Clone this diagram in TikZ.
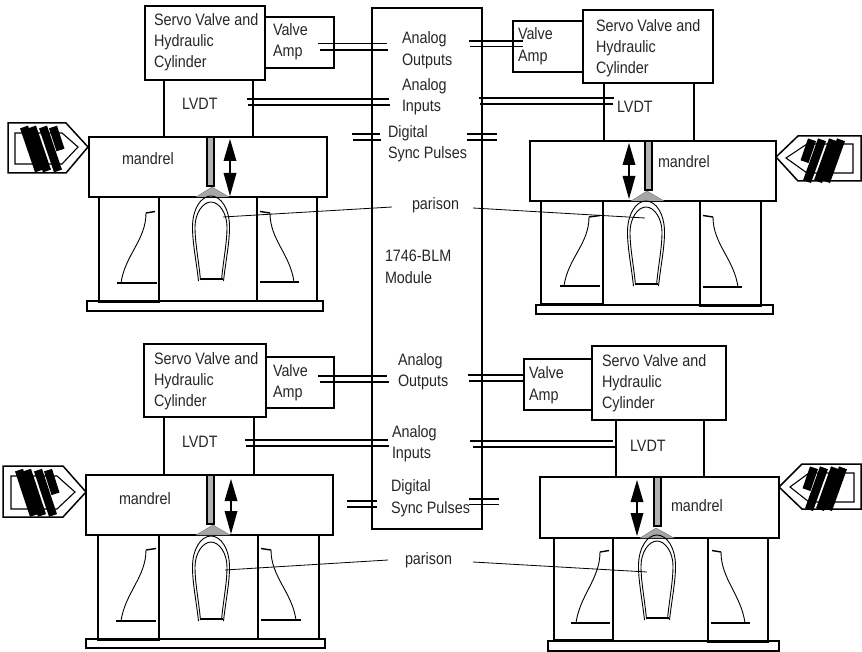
\documentclass[tikz,border=0pt]{standalone}
\usepackage{fontspec}
\setmainfont[FakeStretch=0.87]{Liberation Sans}
\tikzset{
  box/.style={draw=black,line width=1.6pt,inner sep=0pt,outer sep=0pt,anchor=north west},
  lbl/.style={inner sep=0pt,outer sep=0pt,anchor=base west,text=black!85,font=\fontsize{16.5}{21}\selectfont},
  wire/.style={line width=1.5pt},
  pointer/.style={line width=0.8pt},
  rodshape/.style={draw=black,fill=black!30,line width=1.2pt},
  hoodshape/.style={draw=black!55,fill=black!35,line width=0.4pt},
  outl/.style={line width=1.5pt,line join=miter},
  inl/.style={line width=1.1pt,line join=miter},
  bar/.style={line width=8.4pt,black}
}
\newcommand{\bx}[5]{\node[box,minimum width={(#4-#2)*1pt},minimum height={(#5-#3)*1pt}] (#1) at (#2,#3) {};}
\newcommand{\lb}[4]{\node[lbl] (#1) at (#2,#3) {#4};}
% double stub: name, x1, x2, y1, x1', x2', y2
\newcommand{\dbl}[7]{%
  \coordinate (#1a) at (#2,#4); \coordinate (#1b) at (#3,#4);
  \coordinate (#1c) at (#5,#7); \coordinate (#1d) at (#6,#7);
  \draw[wire] (#1a) -- (#1b);
  \draw[wire] (#1c) -- (#1d);}
\newcommand{\parisonshape}[2]{%
  \draw[line width=0.9pt] ({#1-12.5},#2) .. controls ({#1-15},{#2-22}) and ({#1-18.5},{#2-38}) .. ({#1-18.5},{#2-54})
     .. controls ({#1-18.5},{#2-72}) and ({#1-10},{#2-85}) .. (#1,{#2-85})
     .. controls ({#1+10},{#2-85}) and ({#1+18.5},{#2-72}) .. ({#1+18.5},{#2-54})
     .. controls ({#1+18.5},{#2-38}) and ({#1+15},{#2-22}) .. ({#1+12.5},#2);
  \draw[line width=0.9pt] ({#1-10.5},{#2-1}) .. controls ({#1-12.5},{#2-22}) and ({#1-16},{#2-38}) .. ({#1-16},{#2-54})
     .. controls ({#1-16},{#2-68}) and ({#1-8},{#2-79}) .. (#1,{#2-79})
     .. controls ({#1+8},{#2-79}) and ({#1+16},{#2-68}) .. ({#1+16},{#2-54})
     .. controls ({#1+16},{#2-38}) and ({#1+12.5},{#2-22}) .. ({#1+10.5},{#2-1});
  \draw[line width=1.4pt] ({#1-11},{#2-2}) -- ({#1+11.5},{#2-2});}
% base line x1,x2,y ; curve foot xb ; top xt,yt ; tick end xe,ye
\newcommand{\cavcurve}[8]{%
  \draw[line width=1.4pt] (#1,#3) -- (#2,#3);
  \draw[line width=0.9pt] (#4,#8) .. controls ({#4+0.16*(#5-#4)},{#8-28}) and (#5,{#6+27}) .. (#5,#6);
  \draw[line width=1.4pt] (#5,#6) -- (#7,{#6-1.5});}
\newcommand{\updown}[3]{%
  \fill (#1,#2) -- ({#1+6.5},{#2+22}) -- ({#1-6.5},{#2+22}) -- cycle;
  \fill (#1,#3) -- ({#1+6.5},{#3-23}) -- ({#1-6.5},{#3-23}) -- cycle;
  \draw[line width=1.3pt] (#1,{#2+20}) -- (#1,{#3-20});}
% rod x1,x2,top,bot; hood apex x, y, base x1,x2,y
\newcommand{\rod}[9]{%
  \draw[hoodshape] (#6,#7) -- (#9,{#7+10}) -- (#8,{#7+10}) -- cycle;
  \draw[rodshape] (#1,#3) rectangle (#2,#4);}
% polygon: xback,top,bot,xcorner,xtip,ytip
\newcommand{\probe}[7]{\draw[#7] (#1,#2) -- (#4,#2) -- (#5,#6) -- (#4,#3) -- (#1,#3) -- cycle;}
% bars: xback, top, dir, yscale, shift
\newcommand{\probebars}[5]{%
  \begin{scope}[shift={(#1,#2)},xscale=#3,yscale=#4]
    \draw[bar] ({16+#5},4) -- ({31+#5},48);
    \draw[bar] ({24+#5},4) -- ({39+#5},48);
    \draw[bar] ({35+#5},4) -- ({50+#5},48);
    \draw[bar] ({45+#5},4) -- ({52.5+#5},27);
  \end{scope}}
\begin{document}
\begin{tikzpicture}[x=1pt,y=-1pt]
\useasboundingbox (0,0) rectangle (862,652);
% module
\bx{module}{372}{8}{482}{529}
% ===== top-left
\bx{tlcavl}{99}{197}{159}{302}
\bx{tlcavr}{257}{197}{317}{301}
\bx{tlbase}{87}{301}{323}{311}
\bx{tlmand}{89}{137}{327}{197}
\bx{tllvdt}{164}{80}{253}{137}
\bx{tlservo}{145}{6}{265}{80}
\bx{tlamp}{265}{17}{334}{68}
\rod{207}{214}{137}{186}{x}{212}{187}{196}{229}
\parisonshape{211}{281}
\updown{230}{139}{196}
\cavcurve{117}{157}{283}{121}{146}{213}{155}{283}
\cavcurve{260}{299}{282}{294}{270}{213}{260}{282}
\probe{8}{123}{173}{66}{88}{147}{outl}
\probe{15}{133}{164}{62}{78}{147}{inl}
\probebars{8}{123}{1}{1}{0}
\lb{tlt1}{154}{26}{Servo Valve and}
\lb{tlt2}{154}{47}{Hydraulic}
\lb{tlt3}{154}{68}{Cylinder}
\lb{tlt4}{273}{36}{Valve}
\lb{tlt5}{273}{57}{Amp}
\lb{tlt6}{182}{110}{LVDT}
\lb{tlt7}{122}{165}{mandrel}
% ===== top-right
\bx{trcavl}{541}{201}{603}{304}
\bx{trcavr}{700}{201}{761}{306}
\bx{trbase}{536}{305}{773}{314}
\bx{trmand}{530}{141}{776}{201}
\bx{trlvdt}{604}{83}{694}{141}
\bx{trservo}{583}{10}{713}{83}
\bx{tramp}{513}{21}{583}{72}
\rod{645}{652}{141}{190}{x}{647}{191}{631}{664}
\parisonshape{646}{286}
\updown{629}{143}{199}
\cavcurve{560}{600}{286}{564}{589}{217}{600}{286}
\cavcurve{703}{742}{287}{738}{713}{217}{703}{287}
\probe{861}{136}{181}{798}{776}{157}{outl}
\probe{853}{144}{173}{807}{786}{158}{inl}
\probebars{861}{136}{-1}{0.95}{4}
\lb{trt1}{596}{32}{Servo Valve and}
\lb{trt2}{596}{53}{Hydraulic}
\lb{trt3}{596}{74}{Cylinder}
\lb{trt4}{518}{40}{Valve}
\lb{trt5}{518}{62}{Amp}
\lb{trt6}{617}{113}{LVDT}
\lb{trt7}{658}{168}{mandrel}
% ===== bottom-left
\bx{blcavl}{98}{535}{159}{640}
\bx{blcavr}{258}{535}{319}{639}
\bx{blbase}{86}{639}{325}{648}
\bx{blmand}{86}{475}{333}{535}
\bx{bllvdt}{164}{417}{254}{475}
\bx{blservo}{144}{344}{266}{417}
\bx{blamp}{266}{357}{334}{408}
\rod{207}{214}{475}{524}{x}{213}{525}{196}{230}
\parisonshape{211}{621}
\updown{231}{479}{534}
\cavcurve{116}{156}{621}{121}{146}{550}{156}{621}
\cavcurve{261}{301}{620}{296}{271}{550}{261}{620}
\probe{3}{466}{517}{63}{86}{492}{outl}
\probe{11}{476}{509}{57}{75}{492}{inl}
\probebars{3}{466}{1}{1.03}{0}
\lb{blt1}{154}{364}{Servo Valve and}
\lb{blt2}{154}{385}{Hydraulic}
\lb{blt3}{154}{406}{Cylinder}
\lb{blt4}{273}{376}{Valve}
\lb{blt5}{273}{397}{Amp}
\lb{blt6}{182}{447}{LVDT}
\lb{blt7}{119}{504}{mandrel}
% ===== bottom-right
\bx{brcavl}{554}{538}{613}{640}
\bx{brcavr}{708}{538}{768}{642}
\bx{brbase}{548}{641}{779}{651}
\bx{brmand}{540}{477}{779}{538}
\bx{brlvdt}{616}{420}{704}{477}
\bx{brservo}{592}{346}{726}{420}
\bx{bramp}{524}{359}{592}{410}
\rod{654}{661}{477}{526}{x}{656}{528}{640}{674}
\parisonshape{657}{620}
\updown{637}{480}{536}
\cavcurve{571}{610}{623}{576}{600}{552}{609}{623}
\cavcurve{711}{750}{623}{745}{721}{552}{712}{623}
\probe{861}{464}{509}{802}{779}{487}{outl}
\probe{854}{473}{502}{809}{790}{487}{inl}
\probebars{861}{464}{-1}{0.95}{2}
\lb{brt1}{602}{366}{Servo Valve and}
\lb{brt2}{602}{387}{Hydraulic}
\lb{brt3}{602}{408}{Cylinder}
\lb{brt4}{529}{378}{Valve}
\lb{brt5}{529}{400}{Amp}
\lb{brt6}{630}{451}{LVDT}
\lb{brt7}{671}{511}{mandrel}
% ===== module labels
\lb{m1}{402}{44}{Analog}
\lb{m2}{402}{66}{Outputs}
\lb{m3}{402}{91}{Analog}
\lb{m4}{402}{112}{Inputs}
\lb{m5}{388}{138}{Digital}
\lb{m6}{388}{159}{Sync Pulses}
\lb{m7}{412}{210}{parison}
\lb{m8}{385}{262}{1746-BLM}
\lb{m9}{385}{284}{Module}
\lb{m10}{398}{365}{Analog}
\lb{m11}{398}{386}{Outputs}
\lb{m12}{392}{437}{Analog}
\lb{m13}{392}{458}{Inputs}
\lb{m14}{391}{491}{Digital}
\lb{m15}{391}{513}{Sync Pulses}
\lb{m16}{405}{564}{parison}
% ===== double lines
\dbl{d1}{318}{387}{43.5}{320}{388}{50}
\dbl{d2}{469}{523}{41}{470}{523}{46.5}
\dbl{d3}{247}{389}{99}{248}{390}{105}
\dbl{d4}{479}{614}{98}{480}{613}{104}
\dbl{d5}{352}{380}{134}{353}{381}{140}
\dbl{d6}{467}{497}{134}{467}{497}{140}
\dbl{d7}{318}{387}{376}{320}{389}{382}
\dbl{d8}{468}{524}{375}{469}{524}{381}
\dbl{d9}{245}{388}{440}{246}{389}{446}
\dbl{d10}{470}{613}{441}{473}{616}{447}
\dbl{d11}{347}{377}{501}{347}{377}{507}
\dbl{d12}{469}{499}{499}{469}{499}{504.5}
% ===== parison pointers
\coordinate (p1a) at (392,207); \coordinate (p1b) at (223,217);
\coordinate (p2a) at (473,208); \coordinate (p2b) at (645,218);
\coordinate (p3a) at (388,560); \coordinate (p3b) at (225,570);
\coordinate (p4a) at (473,562); \coordinate (p4b) at (647,572);
\draw[pointer] (p1a) -- (p1b);
\draw[pointer] (p2a) -- (p2b);
\draw[pointer] (p3a) -- (p3b);
\draw[pointer] (p4a) -- (p4b);
\end{tikzpicture}
\end{document}
